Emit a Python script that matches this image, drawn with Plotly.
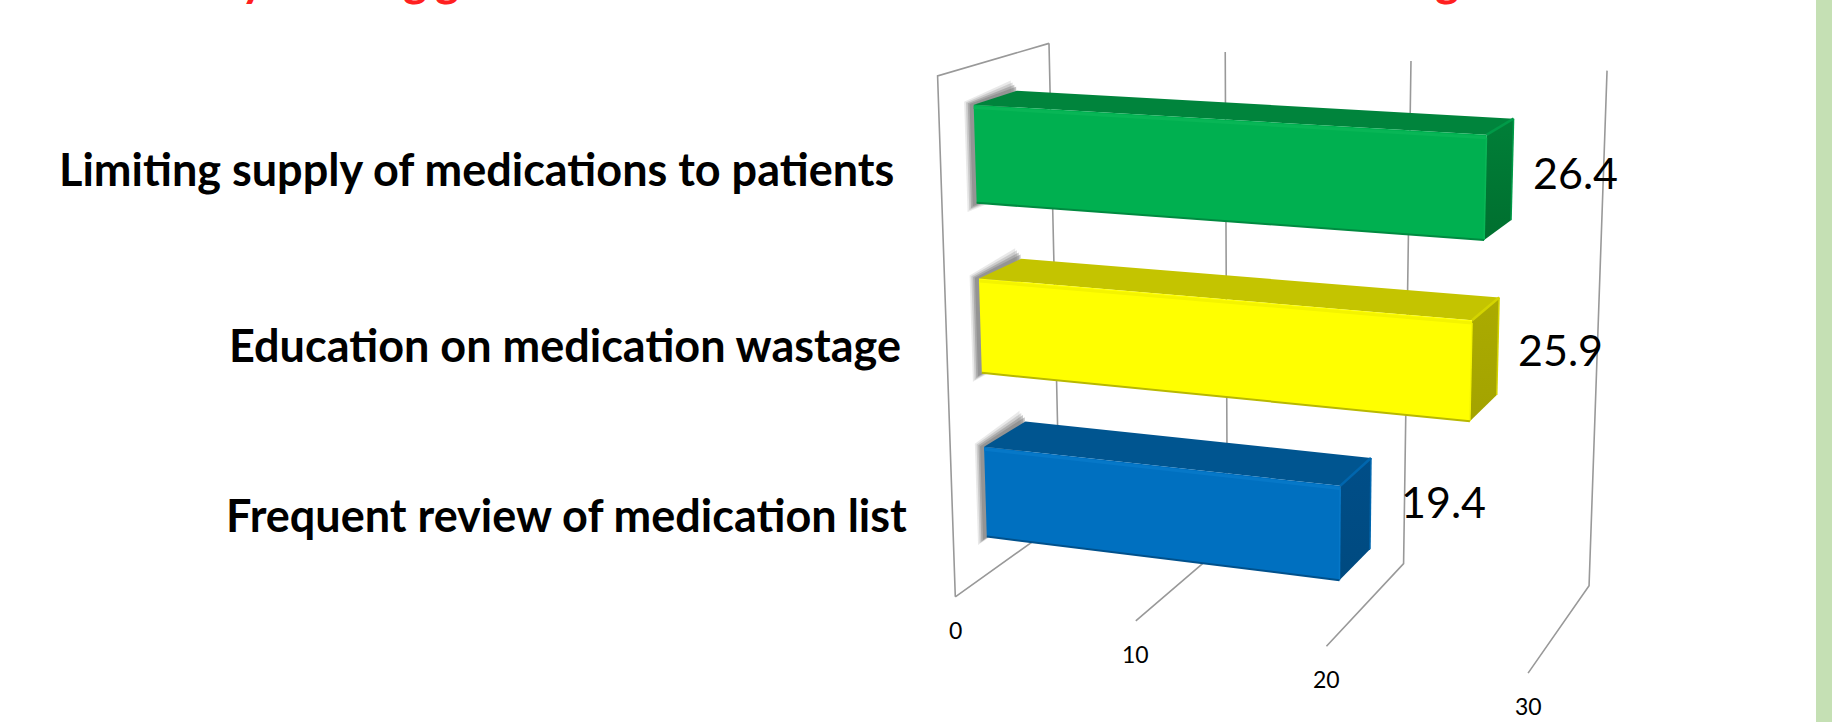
import numpy as np
import plotly.graph_objects as go

# ---- data ----
categories = ["Limiting supply of medications to patients",
              "Education on medication wastage",
              "Frequent review of medication list"]
values = [26.4, 25.9, 19.4]
value_labels = ["26.4", "25.9", "19.4"]
tick_values = [0, 10, 20, 30]
tick_labels = ["0", "10", "20", "30"]

# ---- view of the 3-D box: value / 30, depth 0..1, height 0..1 -> page pixels ----
VIEW_U = [450.9237, 201.2097, -67.99224, 955.302]
VIEW_V = [22.6376, -26.87043, -524.9639, 596.8345]
VIEW_W = [-0.07974457, 0.09130854, -0.0536289, 1.0]
AXIS_MAX = 30.0
W, H = 1832, 722

# ---- bar layout and styles (depth range, height range per bar) ----
DEPTH = (0.2937554, 0.6832149)
HEIGHTS = [(0.7404616, 0.9268437), (0.4080895, 0.5940801), (0.07649867, 0.2600638)]
FRONT = ["#00B050", "#FFFF00", "#0070C0"]
TOP = ["#00843C", "#C4C400", "#005590"]
SIDE_HI = ["#007F38", "#ABAB00", "#004E88"]
SIDE_LO = ["#006F2F", "#A3A300", "#004A80"]
EDGE = ["#08B656", "#F4F400", "#0678C8"]
RIDGE = ["#009A48", "#D4D400", "#0066AE"]
UNDER = ["#008A40", "#B8B800", "#00518C"]
VALUE_SHIFT = [(63, 3), (63, 3), (73, -2)]
CAT_SHIFT = [(-79, 15), (-77, 19), (-76, 23)]
TICK_DY = 33
GRID = "#999999"
FONT = "Lato"


def proj(v, d, z):
    p = np.array([v / AXIS_MAX, d, z, 1.0])
    w = p @ np.array(VIEW_W)
    return float(p @ np.array(VIEW_U) / w), float(p @ np.array(VIEW_V) / w)


def path(points):
    xy = [proj(*p) for p in points]
    return [a for a, _ in xy], [b for _, b in xy]


fig = go.Figure()


def line(points, color, width, name):
    x, y = path(points)
    fig.add_trace(go.Scatter(x=x, y=y, mode="lines", name=name,
                             line=dict(color=color, width=width, shape="linear"),
                             hoverinfo="skip", showlegend=False))


def poly(points, color, name, opacity=1.0, gradient=None):
    x, y = path(points + points[:1])
    kw = dict(fillcolor=color)
    if gradient:
        kw = dict(fillgradient=dict(type="vertical",
                                    colorscale=[[0, gradient[0]], [1, gradient[1]]]))
    fig.add_trace(go.Scatter(x=x, y=y, mode="lines", fill="toself", name=name,
                             line=dict(width=0, color=color), opacity=opacity,
                             hoverinfo="skip", showlegend=False, **kw))


# gridlines and walls, from the axis ticks
for t in tick_values:
    line([(t, 0, 0), (t, 1, 0), (t, 1, 1)], GRID, 1.6, f"grid {t}")
line([(0, 1, 1), (0, 0, 1), (0, 0, 0)], GRID, 1.6, "wall")

# soft shadows on the wall, then the bars
d0, d1 = DEPTH
for i, v in enumerate(values):
    z0, z1 = HEIGHTS[i]
    for e, g, op in [(0.46, 0.018, 0.16), (0.36, 0.014, 0.25), (0.26, 0.010, 0.38), (0.16, 0.006, 0.45)]:
        poly([(-e, d0 - 0.01, z0 - g), (-e, d0 - 0.01, z1 + g * 0.3),
              (-e, d1 + 0.02, z1 + g), (-e, d1 + 0.02, z0 - g)],
             "#777777", f"shadow {i}", opacity=op)

for i, v in enumerate(values):
    z0, z1 = HEIGHTS[i]
    name = categories[i]
    poly([(0, d1, z1), (v, d1, z1), (v, d0, z1), (0, d0, z1)], TOP[i], name + " top")
    poly([(v, d0, z1), (v, d1, z1), (v, d1, z0), (v, d0, z0)], SIDE_HI[i], name + " side",
         gradient=(SIDE_LO[i], SIDE_HI[i]))
    poly([(0, d0, z0), (0, d0, z1), (v, d0, z1), (v, d0, z0)], FRONT[i], name)
    # bevels
    line([(v, d0, z1), (v, d1, z1)], RIDGE[i], 2.5, name + " ridge")
    line([(v, d1, z1), (v, d1, z0)], RIDGE[i], 1.5, name + " back edge")
    line([(0, d0, z1 - 0.005), (v, d0, z1 - 0.005)], EDGE[i], 3, name + " highlight")
    line([(v, d0, z1 - 0.005), (v, d0, z0)], EDGE[i], 1.5, name + " corner")
    line([(0, d0, z0), (v, d0, z0)], UNDER[i], 2, name + " under")

# slide border strip on the right
fig.add_trace(go.Scatter(x=[1816, W, W, 1816, 1816], y=[0, 0, H, H, 0], mode="lines",
                         fill="toself", fillcolor="#C5E0B4", line=dict(width=0),
                         name="strip", hoverinfo="skip", showlegend=False))

ann = []


def px_x(x):
    return x / W


def px_y(y):
    return 1 - y / H


for t, lab in zip(tick_values, tick_labels):
    x, y = proj(t, 0, 0)
    ann.append(dict(x=px_x(x), y=px_y(y + TICK_DY), text=lab,
                    font=dict(size=23, color="#000000", family=FONT)))

for i, v in enumerate(values):
    z0, z1 = HEIGHTS[i]
    x, y = proj(v, d1, (z0 + z1) / 2)
    dx, dy = VALUE_SHIFT[i]
    ann.append(dict(x=px_x(x + dx), y=px_y(y + dy), text=value_labels[i],
                    font=dict(size=43, color="#000000", family=FONT)))
    x, y = proj(0, d0, (z0 + z1) / 2)
    dx, dy = CAT_SHIFT[i]
    ann.append(dict(x=px_x(x + dx), y=px_y(y + dy), text=f"<b>{categories[i]}</b>",
                    xanchor="right",
                    font=dict(size=45, color="#000000", family=FONT)))

# lower edge of the cropped red heading at the top of the slide
for ch, x in [("y", 254), ("g", 415), ("g", 447), ("g", 1447)]:
    ann.append(dict(x=px_x(x), y=px_y(8), text=f"<b>{ch}</b>", yanchor="bottom",
                    font=dict(size=46, color="#FF2020", family=FONT)))

for a in ann:
    a.update(xref="paper", yref="paper", showarrow=False)
    a.setdefault("xanchor", "center")
    a.setdefault("yanchor", "middle")

fig.update_layout(
    width=W, height=H, margin=dict(l=0, r=0, t=0, b=0, pad=0, autoexpand=False),
    paper_bgcolor="#FFFFFF", plot_bgcolor="#FFFFFF", showlegend=False,
    xaxis=dict(range=[0, W], visible=False, fixedrange=True),
    yaxis=dict(range=[H, 0], visible=False, fixedrange=True),
    annotations=ann,
)
post = """
document.body.style.margin = '0';
document.body.style.fontVariantLigatures = 'none';
var gd = document.getElementById('{plot_id}');
Plotly.relayout(gd, {'annotations[0].x': gd.layout.annotations[0].x});
"""
fig.write_html("out.html", config=dict(displayModeBar=False), post_script=post)
